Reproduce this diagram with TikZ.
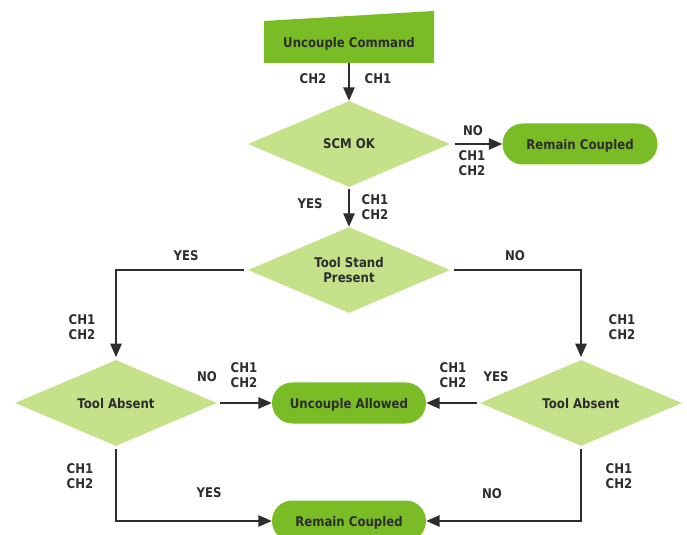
\documentclass[tikz,border=0pt]{standalone}
\usepackage{fontspec}
\setmainfont{DejaVu Sans}[FakeStretch=0.88]
\usetikzlibrary{shapes.geometric,arrows.meta}
\definecolor{darkgreen}{RGB}{122,188,37}
\definecolor{lightgreen}{RGB}{197,225,138}
\definecolor{ink}{RGB}{45,45,45}
\tikzset{
  txt/.style={text=ink, font=\bfseries\fontsize{10}{11.25}\selectfont, align=center, inner sep=0pt, text depth=0pt},
  decision/.style={txt, diamond, aspect=2.35, fill=lightgreen, minimum width=151.5pt, minimum height=64.5pt},
  outcome/.style={txt, rectangle, fill=darkgreen, rounded corners=15.3pt, minimum width=115.5pt, minimum height=30.75pt},
  cmdbox/.style={txt, rectangle, minimum width=127.5pt, minimum height=31.5pt},
  flow/.style={draw=ink, line width=1.1pt, -{Triangle[length=10pt,width=8.5pt]}}
}
\begin{document}
\begin{tikzpicture}[x=0.75pt,y=-0.75pt]
            \useasboundingbox (0,0) rectangle (687,535);
            % shapes
            \fill [darkgreen] (264,21)--(434,11)--(434,63)--(264,63)--cycle;
            \node [cmdbox] (cmd) at(349,42) {Uncouple Command};
            \node [decision] (scm) at(349,144) {SCM OK};
            \node [outcome, minimum width=116.25pt] (coupledtop) at(580,144) {Remain Coupled};
            \node [decision] (stand) at(349,270) {Tool Stand\\Present};
            \node [decision] (absentleft) at(116,403) {Tool Absent};
            \node [decision] (absentright) at(581,403) {Tool Absent};
            \node [outcome] (allowed) at(349,403) {Uncouple Allowed};
            \node [outcome] (coupledbot) at(349,521) {Remain Coupled};
            % connectors
            \draw [flow] (cmd.south)--(scm.north);
            \draw [flow, shorten <=3.5pt] (scm.east)--(coupledtop.west);
            \draw [flow, shorten <=1pt] (scm.south)--(stand.north);
            \draw [flow, shorten <=3pt, shorten >=2pt] (stand.west) -| (absentleft.north);
            \draw [flow, shorten <=3pt, shorten >=2pt] (stand.east) -| (absentright.north);
            \draw [flow, shorten <=2pt] (absentleft.east)--(allowed.west);
            \draw [flow, shorten <=2pt] (absentright.west)--(allowed.east);
            \draw [flow, shorten <=2pt] (absentleft.south) |- (coupledbot.west);
            \draw [flow, shorten <=2pt] (absentright.south) |- (coupledbot.east);
            % labels
            \node [txt] (l1) at(313,79) {CH2};
            \node [txt] (l2) at(378,79) {CH1};
            \node [txt] (l3) at(473,131) {NO};
            \node [txt] (l4) at(472,163) {CH1\\CH2};
            \node [txt] (l5) at(310,204) {YES};
            \node [txt] (l6) at(375,207) {CH1\\CH2};
            \node [txt] (l7) at(186,256) {YES};
            \node [txt] (l8) at(515,256) {NO};
            \node [txt] (l9) at(82,327) {CH1\\CH2};
            \node [txt] (l10) at(622,327) {CH1\\CH2};
            \node [txt] (l11) at(207,377) {NO};
            \node [txt] (l12) at(244,375) {CH1\\CH2};
            \node [txt] (l13) at(453,375) {CH1\\CH2};
            \node [txt] (l14) at(496,377) {YES};
            \node [txt] (l15) at(80,476) {CH1\\CH2};
            \node [txt] (l16) at(209,493) {YES};
            \node [txt] (l17) at(619,476) {CH1\\CH2};
            \node [txt] (l18) at(492,494) {NO};
        \end{tikzpicture}
\end{document}
